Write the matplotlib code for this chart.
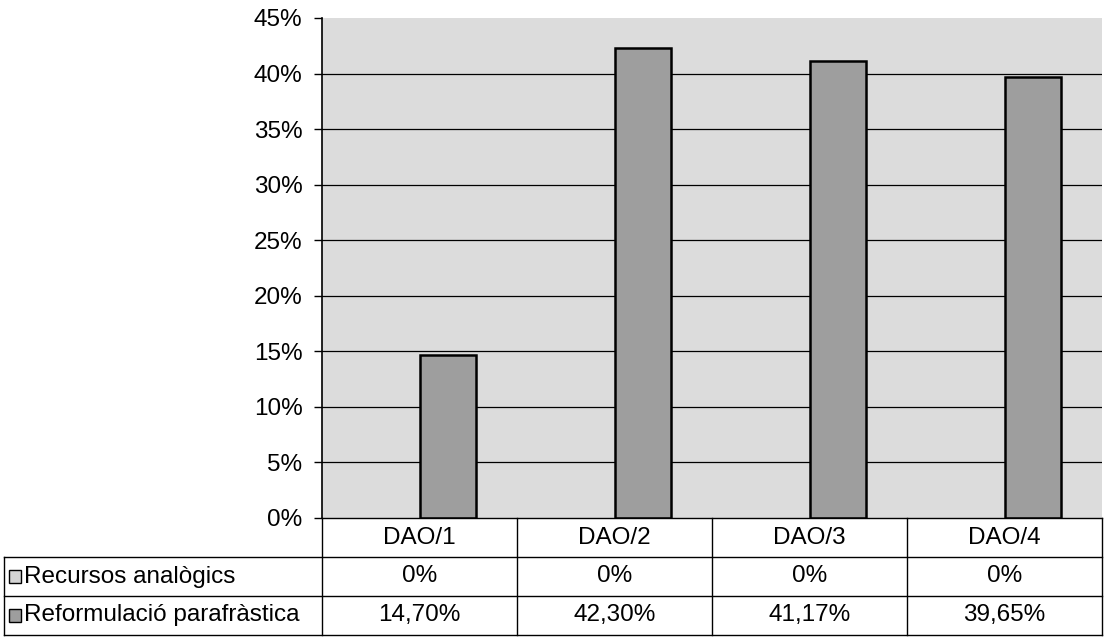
import matplotlib.pyplot as plt
import numpy as np

plt.rcParams['font.family'] = ['Liberation Sans', 'DejaVu Sans']

categories = ['DAO/1', 'DAO/2', 'DAO/3', 'DAO/4']
series_names = ['Recursos analògics', 'Reformulació parafràstica']
recursos = [0.0, 0.0, 0.0, 0.0]
reformulacio = [14.70, 42.30, 41.17, 39.65]
recursos_labels = ['0%', '0%', '0%', '0%']
reformulacio_labels = ['14,70%', '42,30%', '41,17%', '39,65%']
yticks = [0, 5, 10, 15, 20, 25, 30, 35, 40, 45]

W, H = 1107, 637
fig = plt.figure(figsize=(W / 100, H / 100), dpi=100)

def px_axes(x0, y0, x1, y1):
    # pixel box (top-left origin) -> figure fraction
    return (x0 / W, 1 - y1 / H, (x1 - x0) / W, (y1 - y0) / H)

bg = '#dcdcdc'
bar_colors = ['#d4d4d4', '#9e9e9e']
fs = 17.5

# chart area
ax = fig.add_axes(px_axes(322, 18, 1102, 518))
ax.set_facecolor(bg)
ax.set_xlim(0, 4)
ax.set_ylim(0, 45)
ax.set_yticks(yticks)
ax.set_yticklabels([f'{t}%' for t in yticks], fontsize=fs)
ax.tick_params(axis='y', length=6, width=1, pad=8, direction='out')
ax.set_xticks([])
for t in yticks[1:-1]:
    ax.axhline(t, color='black', linewidth=0.9, zorder=0.5)
for s in ['top', 'right', 'bottom']:
    ax.spines[s].set_visible(False)
ax.spines['left'].set_linewidth(1.2)

x = np.arange(len(categories)) + 0.5
bw = 0.29
ax.bar(x - bw / 2, recursos, bw, color=bar_colors[0], linewidth=0)
ax.bar(x + bw / 2, reformulacio, bw, color=bar_colors[1], edgecolor='black', linewidth=1.8)

# data table under the chart, same x scale as the chart
cat_px = (1102 - 322) / 4
lab_w = (322 - 4) / cat_px
tax = fig.add_axes(px_axes(4, 518, 1102, 635))
tax.set_xlim(-lab_w, 4)
tax.set_ylim(3, 0)
tax.axis('off')

lw = 1.0
# horizontal lines
tax.plot([0, 4], [0, 0], color='black', lw=lw, clip_on=False)
for r in [1, 2, 3]:
    tax.plot([-lab_w, 4], [r, r], color='black', lw=lw, clip_on=False)
# vertical lines
tax.plot([-lab_w, -lab_w], [1, 3], color='black', lw=lw, clip_on=False)
for c in range(5):
    tax.plot([c, c], [0, 3], color='black', lw=lw, clip_on=False)

for i, cat in enumerate(categories):
    tax.text(i + 0.5, 0.5, cat, ha='center', va='center', fontsize=fs)
    tax.text(i + 0.5, 1.5, recursos_labels[i], ha='center', va='center', fontsize=fs)
    tax.text(i + 0.5, 2.5, reformulacio_labels[i], ha='center', va='center', fontsize=fs)

# legend keys in the row label cells
key_w = 12 / cat_px
kx = -lab_w + 5 / cat_px
for r, (name, col) in enumerate(zip(series_names, bar_colors)):
    cy = r + 1.5
    tax.add_patch(plt.Rectangle((kx, cy - 0.16), key_w, 0.32, facecolor=col,
                                edgecolor='black', linewidth=1.0, clip_on=False))
    tax.text(kx + key_w + 3 / cat_px, cy, name, ha='left', va='center', fontsize=fs)

fig.savefig('out.png', dpi=100)
